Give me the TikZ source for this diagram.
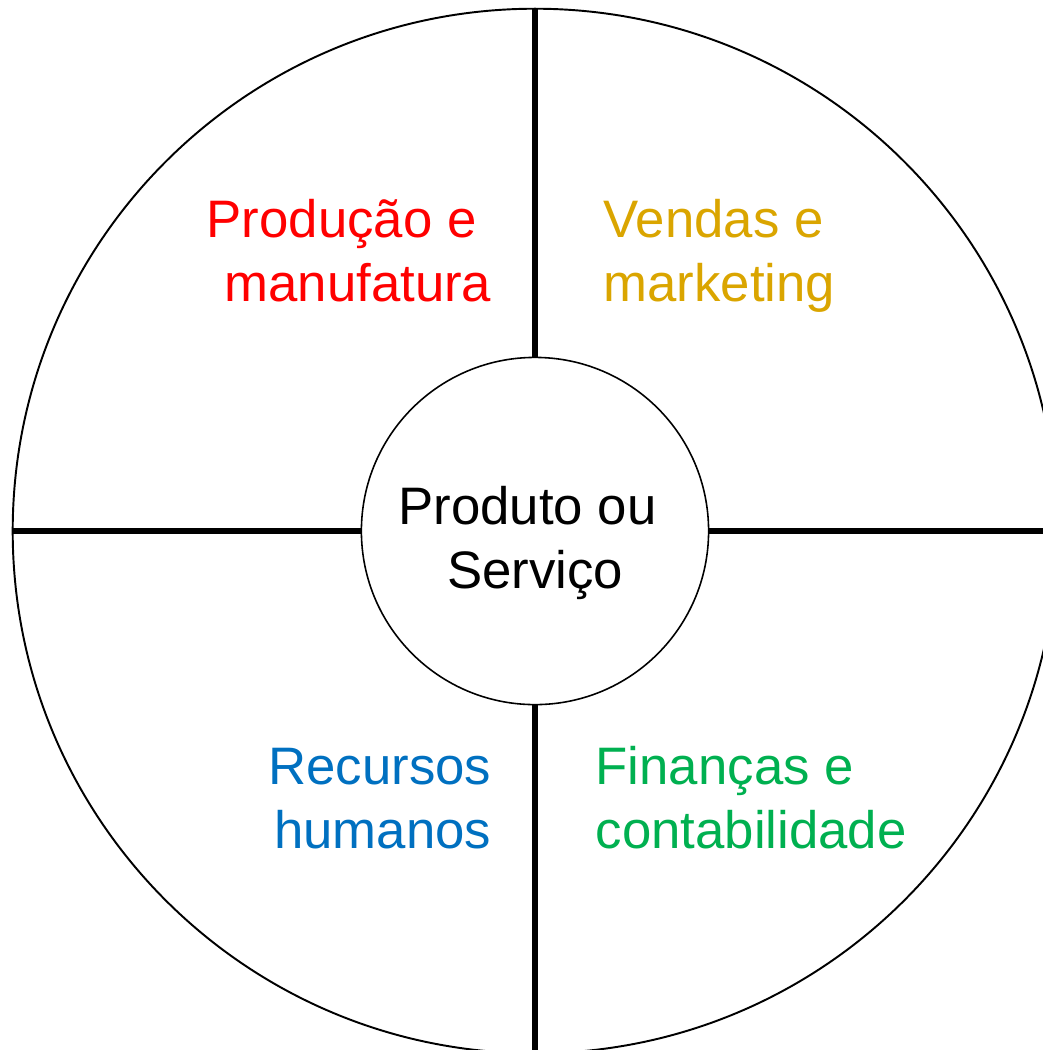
\documentclass[tikz,border=0pt]{standalone}
\usepackage{fontspec}
\setmainfont{Liberation Sans}
\usetikzlibrary{shapes.geometric,positioning}
\definecolor{ouro}{RGB}{218,165,0}
\definecolor{azul}{RGB}{0,112,192}
\definecolor{verde}{RGB}{0,176,80}
\tikzset{
 roda/.style
  = {circle, draw, line width=0.55pt, minimum size=10.44cm, inner sep=0pt},
 nucleo/.style
  = {circle, draw, line width=0.45pt, fill=white, minimum size=3.47cm, inner sep=0pt,
     align=center, font=\fontsize{15}{18.2}\selectfont},
 setor/.style
  = {inner sep=0pt, font=\fontsize{15}{18.2}\selectfont},
 eixo/.style
  = {draw, line width=1.9pt},
}
\begin{document}
\begin{tikzpicture}[x=0.01cm, y=-0.01cm]
    \useasboundingbox (0,0) rectangle (1043,1050);
    \clip (0,0) rectangle (1043,1050);
    \node [roda] (borda) at (535,531) {};
    \node [nucleo] (centro) at (535,531) {\rule{0pt}{17.5pt}Produto ou\hspace*{.28em}\\ Serviço};

    \path [eixo] (centro.north) -- (borda.north);
    \path [eixo] (centro.south) -- (borda.south);
    \path [eixo] (centro.west) -- (borda.west);
    \path [eixo] (centro.east) -- (borda.east);

    \node [setor, red, anchor=base east, align=right] (producao) at (492,301)
      {Produção e\hspace*{.28em}\\ manufatura};
    \node [setor, ouro, anchor=base west, align=left] (vendas) at (603,301)
      {Vendas e\\ marketing};
    \node [setor, azul, anchor=base east, align=right] (recursos) at (492,848)
      {Recursos\\ humanos};
    \node [setor, verde, anchor=base west, align=left] (financas) at (595,848)
      {Finanças e\\ contabilidade};
\end{tikzpicture}
\end{document}
